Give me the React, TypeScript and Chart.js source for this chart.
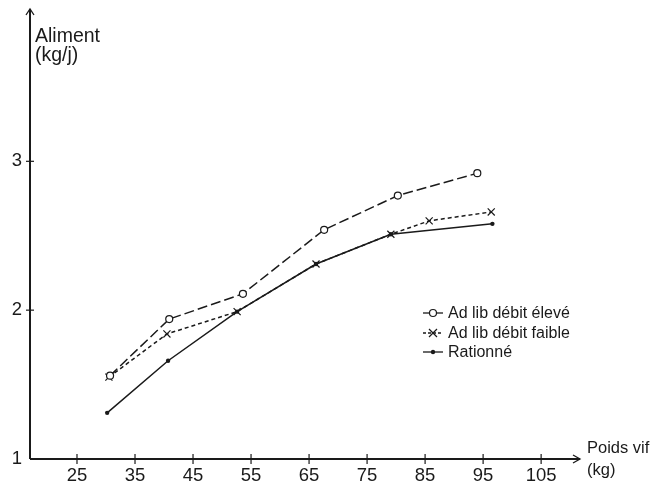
import React, { useEffect, useRef } from "react";
import { Chart, registerables } from "chart.js";
Chart.register(...registerables);

// ---- data ----
const xTicks = [25, 35, 45, 55, 65, 75, 85, 95, 105];
const yTicks = [1, 2, 3];
const seriesNames = ["Ad lib débit élevé", "Ad lib débit faible", "Rationné"];
const eleveX = [30.7, 40.9, 53.6, 67.6, 80.3, 94.0];
const eleveY = [1.56, 1.94, 2.11, 2.54, 2.77, 2.92];
const faibleX = [30.5, 40.5, 52.6, 66.2, 79.1, 85.7, 96.4];
const faibleY = [1.55, 1.84, 1.99, 2.31, 2.51, 2.6, 2.66];
const rationX = [30.2, 40.7, 52.6, 66.2, 79.1, 96.6];
const rationY = [1.31, 1.66, 1.99, 2.31, 2.51, 2.58];
const xTitle = ["Poids vif", "(kg)"];
const yTitle = ["Aliment", "(kg/j)"];

const FONT = "'Liberation Sans', Arial, sans-serif";
const INK = "#1a1a1a";
const dashes = [[10, 4], [4, 3], []];

function pts(xs: number[], ys: number[]) {
  return xs.map((x, i) => ({ x, y: ys[i] }));
}

function drawMarker(ctx: CanvasRenderingContext2D, kind: number, x: number, y: number) {
  ctx.save();
  ctx.setLineDash([]);
  ctx.strokeStyle = INK;
  ctx.lineWidth = 1.2;
  if (kind === 0) {
    ctx.beginPath();
    ctx.arc(x, y, 3.5, 0, Math.PI * 2);
    ctx.fillStyle = "#fff";
    ctx.fill();
    ctx.stroke();
  } else if (kind === 1) {
    const r = 4;
    ctx.beginPath();
    ctx.moveTo(x - r, y - r);
    ctx.lineTo(x + r, y + r);
    ctx.moveTo(x + r, y - r);
    ctx.lineTo(x - r, y + r);
    ctx.stroke();
  } else {
    ctx.beginPath();
    ctx.arc(x, y, 2.2, 0, Math.PI * 2);
    ctx.fillStyle = INK;
    ctx.fill();
  }
  ctx.restore();
}

const decor = {
  id: "decor",
  afterDraw(chart: any) {
    const { ctx, chartArea, scales } = chart;
    const left = chartArea.left;
    const bottom = chartArea.bottom;
    const right = chartArea.right;
    const top = chartArea.top;
    ctx.save();
    ctx.strokeStyle = INK;
    ctx.lineWidth = 2;
    ctx.setLineDash([]);
    // y axis + arrow
    ctx.beginPath();
    ctx.moveTo(left, bottom);
    ctx.lineTo(left, top + 1);
    ctx.stroke();
    ctx.lineWidth = 1.3;
    ctx.beginPath();
    ctx.moveTo(left - 4, top + 7);
    ctx.lineTo(left, top + 1);
    ctx.lineTo(left + 4, top + 7);
    ctx.stroke();
    // x axis + arrow
    ctx.lineWidth = 2;
    ctx.beginPath();
    ctx.moveTo(left, bottom);
    ctx.lineTo(right, bottom);
    ctx.stroke();
    ctx.lineWidth = 1.3;
    ctx.beginPath();
    ctx.moveTo(right - 7, bottom - 4);
    ctx.lineTo(right, bottom);
    ctx.lineTo(right - 7, bottom + 4);
    ctx.stroke();
    // tick crosses
    ctx.lineWidth = 1.2;
    xTicks.forEach((v) => {
      const px = scales.x.getPixelForValue(v);
      ctx.beginPath();
      ctx.moveTo(px, bottom - 5);
      ctx.lineTo(px, bottom + 5);
      ctx.stroke();
    });
    yTicks.forEach((v) => {
      if (v === yTicks[0]) return;
      const py = scales.y.getPixelForValue(v);
      ctx.beginPath();
      ctx.moveTo(left - 4, py);
      ctx.lineTo(left + 4, py);
      ctx.stroke();
    });
    // titles
    ctx.fillStyle = INK;
    ctx.textAlign = "left";
    ctx.textBaseline = "middle";
    ctx.font = `19.5px ${FONT}`;
    ctx.fillText(yTitle[0], left + 5, 37);
    ctx.fillText(yTitle[1], left + 5, 56);
    ctx.font = `16.5px ${FONT}`;
    ctx.fillText(xTitle[0], right + 7, 448);
    ctx.fillText(xTitle[1], right + 7, 470);
    // legend
    const rows = [313, 333, 352];
    ctx.font = `16px ${FONT}`;
    seriesNames.forEach((name, i) => {
      const y = rows[i];
      ctx.save();
      ctx.lineWidth = 1.3;
      ctx.setLineDash(i === 1 ? [3, 2] : []);
      ctx.beginPath();
      ctx.moveTo(423, y);
      ctx.lineTo(443, y);
      ctx.stroke();
      ctx.restore();
      drawMarker(ctx, i, 433, y);
      ctx.fillStyle = INK;
      ctx.fillText(name, 448, y + 1);
    });
    ctx.restore();
  },
};

export default function App() {
  const ref = useRef<HTMLCanvasElement | null>(null);
  useEffect(() => {
    document.body.style.margin = "0";
    const canvas = ref.current!;
    const common = { borderColor: INK, borderWidth: 1.5, pointBorderColor: INK, pointBorderWidth: 1.2, tension: 0 };
    const chart = new Chart(canvas, {
      type: "line",
      data: {
        datasets: [
          {
            ...common,
            label: seriesNames[0],
            data: pts(eleveX, eleveY),
            borderDash: dashes[0],
            pointStyle: "circle",
            pointRadius: 3.5,
            pointBackgroundColor: "#fff",
          },
          {
            ...common,
            label: seriesNames[1],
            data: pts(faibleX, faibleY),
            borderDash: dashes[1],
            pointStyle: "crossRot",
            pointRadius: 5,
            pointBackgroundColor: "#fff",
          },
          {
            ...common,
            label: seriesNames[2],
            data: pts(rationX, rationY),
            borderDash: dashes[2],
            pointStyle: "circle",
            pointRadius: 2.2,
            pointBorderWidth: 0,
            pointBackgroundColor: INK,
          },
        ],
      } as any,
      options: {
        responsive: false,
        animation: false,
        devicePixelRatio: 1,
        layout: { padding: { top: 8, right: 71, left: 0, bottom: 0 } },
        plugins: { legend: { display: false }, tooltip: { enabled: false } },
        scales: {
          x: {
            type: "linear",
            min: 16.9,
            max: 111.7,
            grid: { display: false, drawTicks: false },
            border: { display: false },
            afterBuildTicks: (s: any) => {
              s.ticks = xTicks.map((v) => ({ value: v }));
            },
            afterFit: (s: any) => {
              s.height = 24;
              s.paddingLeft = 0;
              s.paddingRight = 0;
            },
            ticks: {
              autoSkip: false,
              maxRotation: 0,
              padding: 6,
              color: INK,
              font: { family: FONT, size: 18.5 },
            },
          },
          y: {
            type: "linear",
            min: 1,
            max: 4.03,
            grid: { display: false, drawTicks: false },
            border: { display: false },
            afterBuildTicks: (s: any) => {
              s.ticks = yTicks.map((v) => ({ value: v }));
            },
            afterFit: (s: any) => {
              s.width = 30;
              s.paddingTop = 0;
              s.paddingBottom = 0;
            },
            ticks: {
              padding: 8,
              color: INK,
              font: { family: FONT, size: 18.5 },
            },
          },
        },
      } as any,
      plugins: [decor],
    });
    return () => chart.destroy();
  }, []);
  return (
    <div style={{ position: "absolute", left: 0, top: 0, width: 651, height: 483, background: "#fff" }}>
      <canvas ref={ref} width={651} height={483} style={{ width: 651, height: 483, display: "block" }} />
    </div>
  );
}
